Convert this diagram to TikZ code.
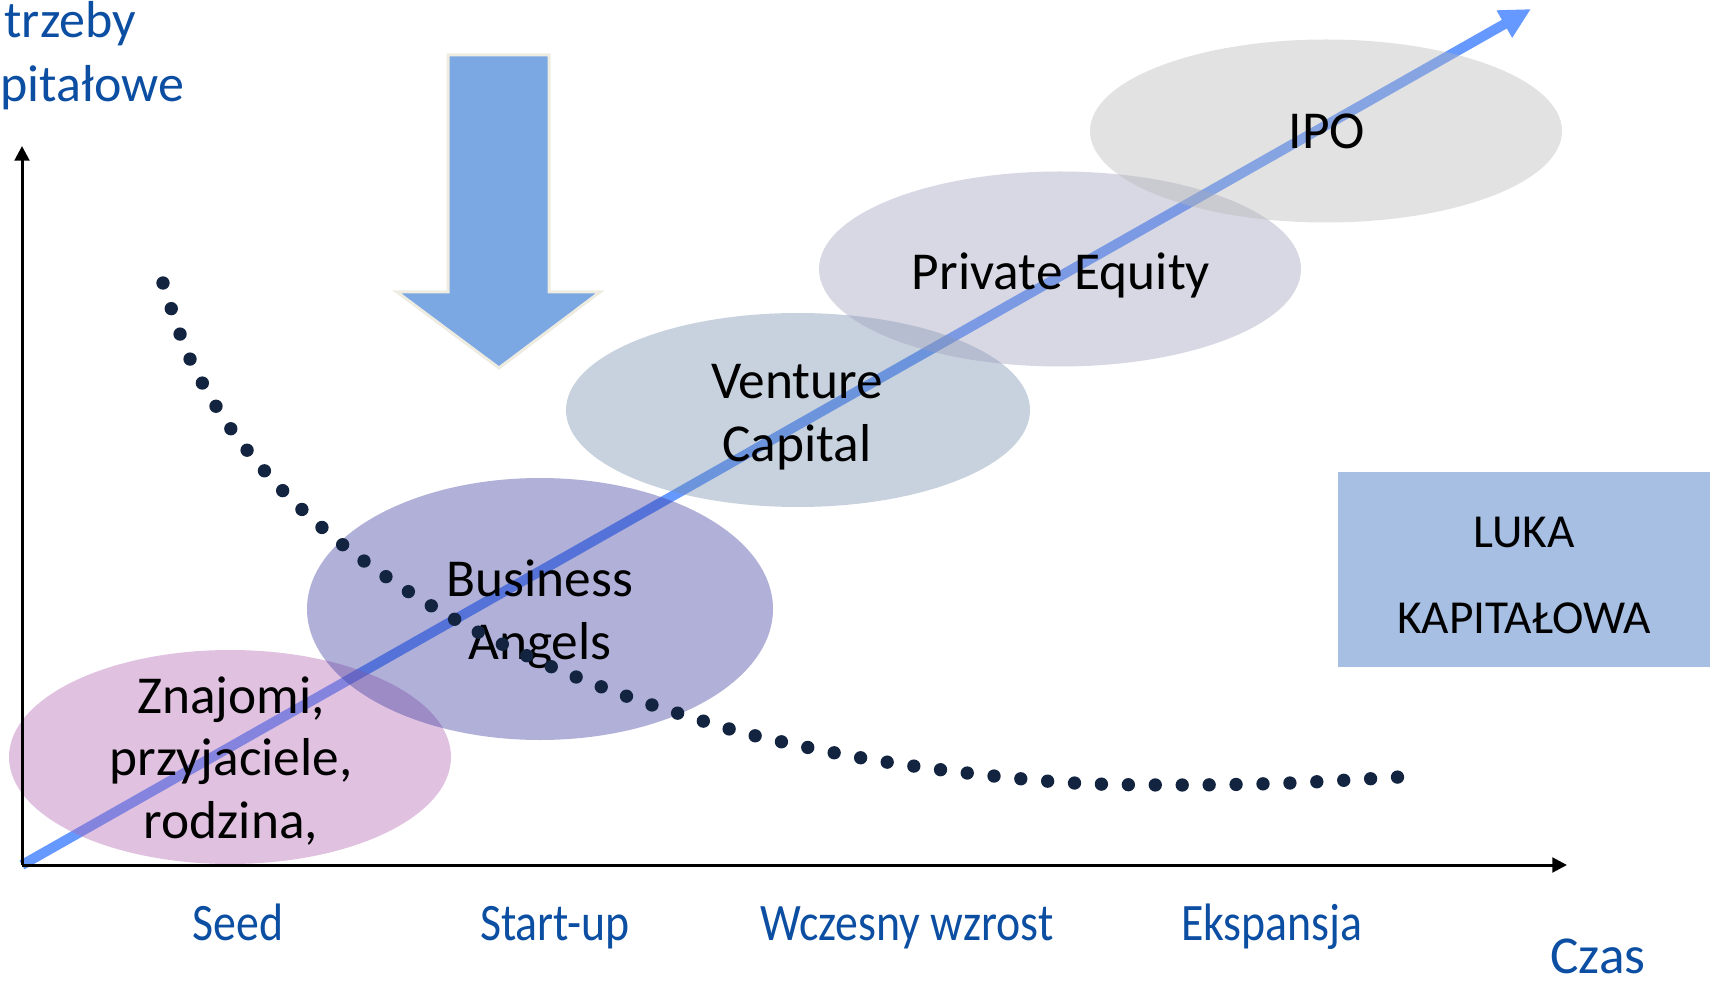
\documentclass[tikz,border=0pt]{standalone}
\usepackage{fontspec}
\setmainfont{Carlito}
\usetikzlibrary{arrows.meta,shapes.geometric}

\definecolor{axisblue}{RGB}{11,78,162}
\definecolor{trendblue}{RGB}{102,153,255}
\definecolor{arrowfill}{RGB}{123,167,227}
\definecolor{arrowedge}{RGB}{238,236,225}
\definecolor{gapfill}{RGB}{167,191,227}
\definecolor{dotnavy}{RGB}{18,36,63}
\definecolor{friendscol}{RGB}{177,102,177}
\definecolor{angelscol}{RGB}{57,57,157}
\definecolor{vccol}{RGB}{117,142,172}
\definecolor{pecol}{RGB}{157,157,187}
\definecolor{ipocol}{RGB}{182,182,182}

\tikzset{every picture/.style={line width=0.75pt}}
\tikzset{
  stage/.style={ellipse, draw=none, inner sep=0pt, fill opacity=0.4},
  stagelbl/.style={inner sep=0pt, align=center, font=\fontsize{40}{47}\selectfont},
  phase/.style={inner sep=0pt, anchor=base, text=axisblue, font=\fontsize{39.5}{47}\selectfont},
  axis/.style={line width=2.25pt, -{Triangle[length=11pt,width=11pt]}},
}

\begin{document}
\begin{tikzpicture}[x=0.75pt,y=0.75pt,yscale=-1,xscale=1]
\useasboundingbox (0,0) rectangle (1710,987);

\coordinate (origin) at (22,865);
\coordinate (ytip) at (22,146);
\coordinate (xtip) at (1567,865);
\coordinate (trendtip) at (1531,9);

% growth arrow
\draw [trendblue, line width=7.5pt, -{Triangle[length=23pt,width=22pt]}] (origin) -- (trendtip);

% stages
\node [stage, fill=friendscol, minimum width=331.5pt, minimum height=160.5pt] (friends) at (230,757) {};
\node [stage, fill=angelscol, minimum width=349.5pt, minimum height=196.5pt] (angels) at (540,609) {};
\node [stage, fill=vccol, minimum width=348pt, minimum height=145.5pt] (vc) at (798,410) {};
\node [stage, fill=pecol, minimum width=361.5pt, minimum height=146.25pt] (pe) at (1060,269) {};
\node [stage, fill=ipocol, minimum width=354pt, minimum height=137.25pt] (ipo) at (1326,131) {};

\node [stagelbl] (friendslbl) at (231,761) {Znajomi,\\przyjaciele,\\rodzina,};
\node [stagelbl] (angelslbl) at (540,614) {Business\\Angels};
\node [stagelbl] (vclbl) at (797,417) {Venture\\Capital};
\node [stagelbl] (pelbl) at (1061,275) {Private Equity};
\node [stagelbl] (ipolbl) at (1327,131) {IPO};

% down arrow
\draw [arrowedge, fill=arrowfill, line width=2.25pt] (448,55) -- (549,55) -- (549,292) -- (600,292) -- (499,368) -- (397,292) -- (448,292) -- cycle;

% capital gap
\node [fill=gapfill, inner sep=0pt, minimum width=279pt, minimum height=146.25pt] (gap) at (1524,569.5) {};
\node [inner sep=0pt, align=center, font=\fontsize{35.5}{64.5}\selectfont] (gaplbl) at (1524,575) {LUKA\\KAPITAŁOWA};

% axes
\draw [axis] (origin) -- (ytip);
\draw [axis] (origin) -- (xtip);

\node [inner sep=0pt, anchor=base west, text=axisblue, font=\fontsize{39}{47}\selectfont] (ylbl1) at (4,38) {trzeby};
\node [inner sep=0pt, anchor=base west, text=axisblue, font=\fontsize{39}{47}\selectfont] (ylbl2) at (0,102) {pitałowe};
\node [inner sep=0pt, anchor=base, text=axisblue, font=\fontsize{40}{47}\selectfont] (xlbl) at (1598,973) {Czas};

\node [phase] (seed) at (238,940) {\scalebox{0.87}[1]{Seed}};
\node [phase] (startup) at (555,940) {\scalebox{0.87}[1]{Start-up}};
\node [phase] (early) at (907,940) {\scalebox{0.87}[1]{Wczesny wzrost}};
\node [phase] (expansion) at (1272,940) {\scalebox{0.87}[1]{Ekspansja}};

% dotted curve
\draw [dotnavy, line width=10pt, line cap=round, dash pattern=on 0pt off 20.2pt]
  plot [smooth, tension=0.55] coordinates {(163,283) (190,359) (231,429) (283,491) (343,545) (409,592) (478,632) (552,667) (626,696) (690,717) (756,736) (862,758) (967,773) (1074,783) (1181,785) (1290,783) (1399,777)};

\end{tikzpicture}
\end{document}
